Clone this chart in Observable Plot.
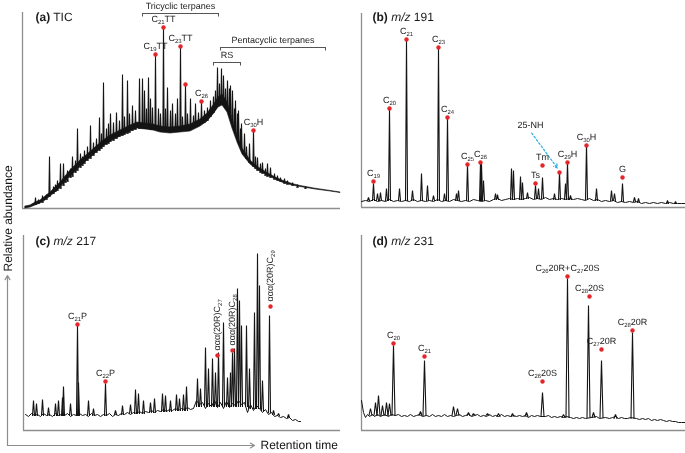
<!DOCTYPE html>
<html><head><meta charset="utf-8">
<script src="https://cdn.jsdelivr.net/npm/d3@7"></script>
<script src="https://cdn.jsdelivr.net/npm/@observablehq/plot@0.6"></script>
<style>
body{margin:0;background:#fff;}
#fig{position:relative;width:685px;height:453px;font-family:"Liberation Sans",Arial,sans-serif;}
#fig svg{position:absolute;will-change:transform;}
#fig text{text-rendering:geometricPrecision;}
</style></head><body><div id="fig"></div>
<script>
// ---------- DATA (retention = arbitrary units, abundance = arbitrary units) ----------
// (a) TIC: noisy envelope [retention, low, high]
const ticBand = [[3,0,2],[8,1,3],[13,3,6],[18,5,8],[23,8,12],[28,12,16],[33,16,21],[38,21,26],[43,27,32],[48,32,38],[53,37,43],[58,42,48],[65,48,54],[73,55,61],[81,62,68],[88,67,73],[98,72,78],[108,77,83],[115,80,86],[123,79,85],[131,78,84],[138,76,82],[148,75,81],[158,76,82],[168,77,84],[178,82,89],[185,87,95],[191,94,103],[196,101,111],[200,103,114],[205,96,106],[210,80,89],[215,66,73],[220,54,60],[228,44,48],[236,38,41],[245,33,35.5],[253,29,31],[261,25.5,27.5],[270,23,24.5],[278,21.5,22.5],[293,19,19.8],[308,17,17.6],[318,15.5,16]];
// (a) TIC spikes [retention, base, top]
const ticPeaks = [[13,4,11],[16,5,9],[20,6,13],[24,9,14],[27,12,52],[31,15,22],[33,17,24],[35,18,28],[38,20,45],[41,23,45],[43,26,33],[45,27,38],[48,31,40],[50,32,52],[53,36,48],[55,38,80],[58,41,55],[60,43,52],[62,45,58],[65,48,62],[68,50,83],[71,53,66],[74,56,70],[77,58,91],[79,60,75],[81,62,126],[84,64,80],[86,65,85],[88,67,95],[91,68,86],[94,70,96],[97,72,88],[100,73,134],[102,74,92],[105,75,128],[107,76,95],[110,78,103],[113,79,98],[117,80,130],[120,80,130],[122,80,118],[124,80,100],[126,80,131],[128,79,110],[130,79,101],[133,79,153],[136,78,100],[138,78,95],[141,78,180],[143,78,100],[145,78,121],[148,78,98],[150,78,105],[153,78,95],[155,78,110],[158,79,161],[160,79,92],[163,80,123],[165,80,95],[168,80,110],[171,81,93],[173,82,105],[176,83,96],[179,85,106],[182,86,98],[185,88,101],[188,92,108],[191,96,112],[193,100,118],[195,104,141],[197,104,125],[199,105,140],[201,104,133],[203,102,120],[205,100,128],[207,95,120],[208,92,123],[210,86,118],[212,80,100],[213,76,108],[215,70,95],[216,66,98],[218,62,80],[219,60,85],[222,55,75],[224,50,62],[227,46,65],[231,42,78],[233,40,52],[235,38,51],[238,36,45],[240,35,46],[243,33,40],[245,32,45],[248,31,41],[252,29,35],[255,28,33],[258,27,31],[262,25,30],[265,24,28],[270,23,26],[275,21,24],[283,20,22]];
const ticMarkers = [[133,154,"C_{19}TT"],[141,181,"C_{21}TT"],[158,162,"C_{23}TT"],[163,124,""],[179,107,"C_{26}"],[231,78,"C_{30}H"]];
const ticGroups = [["Tricyclic terpanes",120,196,195],["Pentacyclic terpanes",198,303,161],["RS",191,218,146]];

// (b) m/z 191
const m191Base = [[0,6],[4,7],[8,6],[12,8],[16,6],[20,7],[24,6],[28,8],[32,6],[36,7],[40,6],[44,7],[48,6],[52,8],[56,6],[60,7],[64,6],[68,7],[72,6],[76,8],[80,6],[84,7],[88,6],[92,8],[96,7],[100,6],[104,7],[108,6],[112,8],[116,7],[120,6],[124,7],[128,6],[132,8],[136,9],[140,7],[144,8],[148,9],[152,8],[156,9],[160,8],[164,9],[168,10],[172,8],[176,9],[180,8],[184,10],[188,8],[192,9],[196,8],[200,9],[204,8],[208,9],[212,8],[216,9],[220,8],[224,7],[228,9],[232,7],[236,8],[240,6],[244,7],[248,6],[252,7],[256,5],[260,6],[264,5],[268,6],[272,5],[276,6],[280,4],[284,5],[288,4],[292,5],[296,4],[300,5],[304,4],[308,5],[312,4],[316,4],[320,4],[324,4]];
const m191Peaks = [[7,7,10],[12,7,24],[16,7,14],[19,7,15],[25,7,19],[28,7,99],[38,7,19],[45,7,168],[51,7,17],[60,7,34],[66,7,22],[72,7,12],[77,7,160],[83,7,14],[86,7,90],[95,7,14],[97,7,17],[106,7,43],[119,7,45],[120,7,44],[122,7,27],[134,8,14],[136,8,13],[150,8,39],[152,8,37],[159,8,31],[161,8,25],[166,9,15],[174,9,22],[177,9,19],[181,9,30],[193,8,14],[198,8,35],[204,8,24],[206,8,45],[209,8,12],[225,8,63],[235,7,19],[250,7,17],[253,7,14],[261,6,24],[273,6,10],[277,5,9],[306,4,7],[314,4,6]];
const m191Markers = [[12,26,"C_{19}"],[28,99,"C_{20}"],[45,168,"C_{21}"],[77,160,"C_{23}"],[86,90,"C_{24}"],[106,43,"C_{25}"],[119,45,"C_{26}"],[174,24,"Ts"],[181,42,"Tm"],[198,35,""],[206,45,"C_{29}H"],[225,62,"C_{30}H"],[261,30,"G"]];
const m191Note = [{text:"25-NH", x1:169, y1:76, x2:197, y2:38}];

// (c) m/z 217
const m217Base = [[2,16],[5,14],[8,17],[11,15],[14,16],[17,14],[20,17],[23,15],[26,16],[29,14],[32,17],[35,15],[38,16],[41,15],[44,17],[47,14],[50,16],[53,15],[56,17],[59,15],[62,16],[65,14],[68,17],[71,15],[74,16],[77,14],[80,16],[83,15],[86,17],[89,14],[92,16],[95,15],[98,17],[101,16],[104,18],[107,16],[110,18],[113,17],[116,19],[119,17],[122,19],[125,18],[128,20],[131,18],[134,20],[137,19],[140,21],[143,19],[146,21],[149,20],[152,22],[155,20],[158,22],[161,21],[164,23],[167,21],[170,22],[173,30],[176,26],[179,28],[182,22],[185,27],[188,24],[191,30],[194,23],[197,28],[200,22],[203,29],[206,23],[209,27],[212,25],[215,30],[218,26],[221,28],[224,18],[227,26],[230,20],[233,25],[236,22],[239,18],[242,21],[245,16],[248,18],[251,14],[254,15],[257,13],[260,14],[263,12],[266,13],[269,10],[272,11],[275,9],[277,9]];
const m217Peaks = [[10,15,30],[13,15,27],[19,15,31],[25,15,23],[32,15,27],[35,15,30],[39,15,33],[40,15,44],[47,15,27],[54,15,105],[55,15,48],[65,15,30],[70,15,22],[82,15,47],[92,16,20],[99,16,25],[107,17,26],[112,17,41],[115,17,37],[120,17,30],[127,18,28],[131,18,32],[139,19,37],[142,19,35],[147,19,30],[153,20,36],[156,20,32],[160,20,36],[163,20,44],[174,24,52],[177,24,42],[182,24,83],[185,24,62],[189,24,72],[192,24,58],[195,24,78],[200,24,108],[204,24,53],[207,24,58],[209,24,78],[211,24,82],[214,24,142],[216,24,130],[218,24,105],[223,24,105],[226,22,62],[231,22,118],[234,22,177],[236,22,145],[239,20,50],[246,18,115],[250,16,20],[255,15,17],[265,13,16]];
const m217Markers = [[54,106,"C_{21}P"],[82,49,"C_{22}P"]];
const m217Steranes = [[194,75,"ααα(20R)C_{27}"],[209,80,"ααα(20R)C_{28}"],[247,124,"ααα(20R)C_{29}"]];

// (d) m/z 231
const m231Base = [[0,30],[2,18],[4,13],[6,16],[8,14],[11,16],[13,14],[16,16],[19,14],[23,16],[27,14],[30,16],[34,15],[37,16],[40,14],[43,15],[46,14],[49,16],[52,14],[55,15],[58,16],[61,14],[65,15],[68,14],[71,16],[74,14],[77,15],[80,14],[83,16],[86,14],[89,15],[92,14],[95,15],[98,16],[101,14],[104,15],[107,16],[110,14],[113,15],[116,16],[119,14],[122,15],[125,14],[128,16],[131,14],[134,15],[137,14],[140,16],[143,14],[146,15],[149,14],[152,15],[155,14],[158,15],[161,14],[164,15],[167,13],[170,15],[173,14],[176,15],[179,14],[184,14],[187,15],[190,13],[193,14],[196,13],[199,14],[202,13],[205,14],[209,13],[212,12],[215,13],[218,12],[221,13],[224,12],[230,13],[235,14],[238,12],[244,13],[248,12],[251,13],[254,14],[257,12],[260,13],[263,12],[266,12],[269,13],[275,12],[278,11],[281,12],[284,11],[287,12],[290,10],[293,11],[296,10],[299,11],[302,10],[305,9],[308,10],[311,9],[314,9],[317,8],[320,8],[324,8]];
const m231Peaks = [[9,15,22],[14,15,28],[17,15,35],[21,15,25],[25,15,28],[28,15,27],[32,15,85],[59,15,19],[63,15,70],[92,15,24],[96,15,22],[107,15,18],[112,15,17],[126,15,17],[137,14,17],[151,14,17],[165,14,18],[181,14,38],[202,13,16],[206,13,152],[227,13,125],[232,13,18],[240,13,70],[254,12,16],[271,12,98]];
const m231Markers = [[32,87,"C_{20}"],[63,74,"C_{21}"],[181,49,"C_{26}20S"],[206,154,"C_{26}20R+C_{27}20S"],[228,134,"C_{28}20S"],[240,81,"C_{27}20R"],[271,100,"C_{28}20R"]];

// ---------- STYLE ----------
const FONT = '"Liberation Sans", Arial, Helvetica, sans-serif';
const INK = "#141414", AXIS = "#8e8e8e", DOT = "#e3262b", TXT = "#222";

function rich(svg) {
  d3.select(svg).selectAll("text").each(function () {
    const s = this.textContent;
    if (!/[_*]/.test(s)) return;
    const parts = s.split(/(\*\*[^*]+\*\*|\*[^*]+\*|_\{[^}]+\})/).filter(p => p);
    const el = d3.select(this);
    el.text(null);
    let shifted = false;
    for (const p of parts) {
      const t = el.append("tspan").attr("fill", "#1a1a1a");
      if (p.startsWith("_{")) {
        t.attr("font-size", "0.66em").text(p.slice(2, -1));
        if (!shifted) t.attr("dy", "2");
        shifted = true;
        continue;
      }
      if (p.startsWith("**")) t.attr("font-weight", "bold").text(p.slice(2, -2));
      else if (p.startsWith("*")) t.attr("font-style", "italic").text(p.slice(1, -1));
      else t.text(p);
      if (shifted) { t.attr("dy", "-2"); shifted = false; }
    }
  });
}

// peaks drawn as narrow triangles around the read apex
function spikes(peaks, hw) {
  return peaks.flatMap((d, i) => [
    {x: d[0] - hw, y: d[1], k: i}, {x: d[0], y: d[2], k: i}, {x: d[0] + hw, y: d[1], k: i}
  ]);
}

function panel(c) {
  const marks = [
    Plot.ruleY([0], {stroke: AXIS, strokeWidth: 1.3}),
    Plot.ruleX([0], {stroke: AXIS, strokeWidth: 1.3})
  ];
  if (c.band) marks.push(Plot.areaY(c.band, {x: d => d[0], y1: d => d[1], y2: d => d[2], fill: INK, stroke: INK, strokeWidth: 0.6}));
  if (c.trace) marks.push(Plot.line(c.trace, {x: d => d[0], y: d => d[1], stroke: INK, strokeWidth: 1}));
  marks.push(Plot.line(spikes(c.peaks, c.hw), {x: "x", y: "y", z: "k", stroke: INK, strokeWidth: 1.1, strokeLinejoin: "miter"}));
  if (c.groups) {
    marks.push(Plot.ruleY(c.groups, {y: d => d[3], x1: d => d[1], x2: d => d[2], stroke: "#555", strokeWidth: 1}));
    const ends = c.groups.flatMap(d => [[d[1], d[3]], [d[2], d[3]]]);
    marks.push(Plot.ruleX(ends, {x: d => d[0], y1: d => d[1] - 3.5, y2: d => d[1], stroke: "#555", strokeWidth: 1}));
    marks.push(Plot.text(c.groups, {x: d => (d[1] + d[2]) / 2, y: d => d[3], text: d => d[0], dy: -7, fontSize: 9, fill: TXT}));
  }
  if (c.note) {
    marks.push(Plot.arrow(c.note, {x1: "x1", y1: "y1", x2: "x2", y2: "y2", stroke: "#2bb0e4", strokeWidth: 1.2, strokeDasharray: "2,2", headLength: 5, inset: 2}));
    marks.push(Plot.text(c.note, {x: "x1", y: "y1", text: "text", dy: -6, fontSize: 9, fill: TXT}));
  }
  const all = c.markers.concat(c.rotated || []);
  marks.push(Plot.dot(all, {x: d => d[0], y: d => d[1], r: 2.2, fill: DOT}));
  marks.push(Plot.text(c.markers.filter(d => d[2]), {x: d => d[0], y: d => d[1], text: d => d[2], dy: -8, fontSize: 9, fill: TXT}));
  if (c.rotated) marks.push(Plot.text(c.rotated, {x: d => d[0], y: d => d[1], text: d => d[2], rotate: -90, textAnchor: "start", dy: -5, fontSize: 9, fill: TXT}));
  marks.push(Plot.text([c.title], {frameAnchor: "top-left", text: d => d, dx: c.tdx, dy: c.tdy, textAnchor: "start", lineAnchor: "middle", fontSize: 12, fill: "#111"}));
  const svg = Plot.plot({
    width: c.w, height: c.h,
    marginLeft: c.ml, marginRight: c.mr, marginTop: c.mt, marginBottom: c.mb,
    x: {domain: [0, c.w - c.ml - c.mr], axis: null},
    y: {domain: [0, c.h - c.mt - c.mb], axis: null},
    style: {fontFamily: FONT, background: "transparent", overflow: "visible"},
    marks
  });
  rich(svg);
  svg.style.left = c.left + "px";
  svg.style.top = c.top + "px";
  return svg;
}

const fig = document.getElementById("fig");

// outer axes (figure-level)
const frameArrows = [{x1: 7, y1: 445, x2: 7, y2: 275}, {x1: 7, y1: 445, x2: 254, y2: 445}];
const frame = Plot.plot({
  width: 685, height: 453, margin: 0,
  x: {domain: [0, 685], range: [0, 685], axis: null},
  y: {domain: [0, 453], range: [0, 453], axis: null},
  style: {fontFamily: FONT, background: "transparent", overflow: "visible"},
  marks: [
    Plot.arrow(frameArrows, {x1: "x1", y1: "y1", x2: "x2", y2: "y2", stroke: AXIS, strokeWidth: 1.2, headLength: 6}),
    Plot.text(["Relative abundance"], {x: 8, y: 271, text: d => d, rotate: -90, textAnchor: "start", fontSize: 12, fill: "#111"}),
    Plot.text(["Retention time"], {x: 260, y: 445, text: d => d, textAnchor: "start", fontSize: 12, fill: "#111"})
  ]
});
frame.style.left = "0px"; frame.style.top = "0px";
fig.appendChild(frame);

fig.appendChild(panel({title: "**(a)** TIC", band: ticBand, peaks: ticPeaks, markers: ticMarkers, groups: ticGroups, hw: 0.6,
  left: 0, top: 0, w: 342, h: 215, ml: 22, mr: 2, mt: 12, mb: 7, tdx: 13, tdy: 5}));
fig.appendChild(panel({title: "**(b)** *m/z* 191", trace: m191Base, peaks: m191Peaks, markers: m191Markers, note: m191Note, hw: 1,
  left: 342, top: 0, w: 343, h: 215, ml: 19, mr: 0, mt: 13, mb: 8, tdx: 11, tdy: 4}));
fig.appendChild(panel({title: "**(c)** *m/z* 217", trace: m217Base, peaks: m217Peaks, markers: m217Markers, rotated: m217Steranes, hw: 1,
  left: 0, top: 215, w: 342, h: 238, ml: 23, mr: 2, mt: 20, mb: 23, tdx: 12, tdy: 6}));
fig.appendChild(panel({title: "**(d)** *m/z* 231", trace: m231Base, peaks: m231Peaks, markers: m231Markers, hw: 1.5,
  left: 342, top: 215, w: 343, h: 238, ml: 19, mr: 0, mt: 20, mb: 23, tdx: 11, tdy: 6}));
</script></body></html>
